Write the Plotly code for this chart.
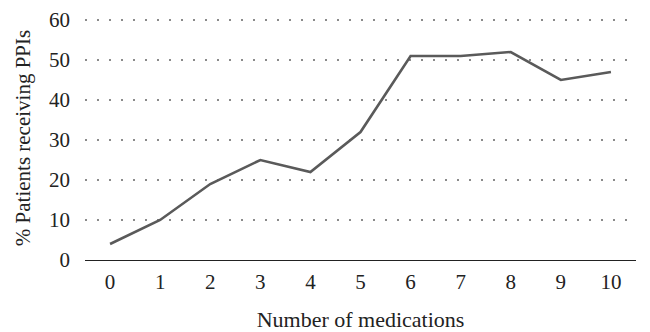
import plotly.graph_objects as go

categories = ["0", "1", "2", "3", "4", "5", "6", "7", "8", "9", "10"]
pct_ppi = [4, 10, 19, 25, 22, 32, 51, 51, 52, 45, 47]
y_ticks = [0, 10, 20, 30, 40, 50, 60]

fig = go.Figure()
fig.add_trace(go.Scatter(
    x=categories, y=pct_ppi, mode="lines",
    line=dict(color="#5a5a5a", width=2.6),
))

font = dict(family="Liberation Serif, DejaVu Serif, serif", size=21, color="#222222")
title_font = dict(family="Liberation Serif, DejaVu Serif, serif", size=22, color="#222222")
fig.update_layout(
    width=650, height=332,
    margin=dict(l=85, r=14, t=16, b=72),
    paper_bgcolor="white", plot_bgcolor="white",
    font=font, showlegend=False,
    xaxis=dict(
        type="category", range=[-0.5, 10.5], automargin=False,
        showgrid=False, showline=True, linecolor="#222222", linewidth=1.2,
        ticks="", tickfont=font, ticklabelstandoff=3,
        title=dict(text="Number of medications", font=title_font, standoff=19),
    ),
    yaxis=dict(
        range=[0, 61], tickvals=y_ticks, showgrid=True, automargin=False,
        gridcolor="#8a8a8a", griddash="1.5px,10.5px", gridwidth=1.5,
        zeroline=False, showline=False, ticks="", tickfont=font,
        ticklabelstandoff=14,
        title=dict(text="% Patients receiving PPIs", font=font, standoff=12),
    ),
)
fig.write_html("out.html")
